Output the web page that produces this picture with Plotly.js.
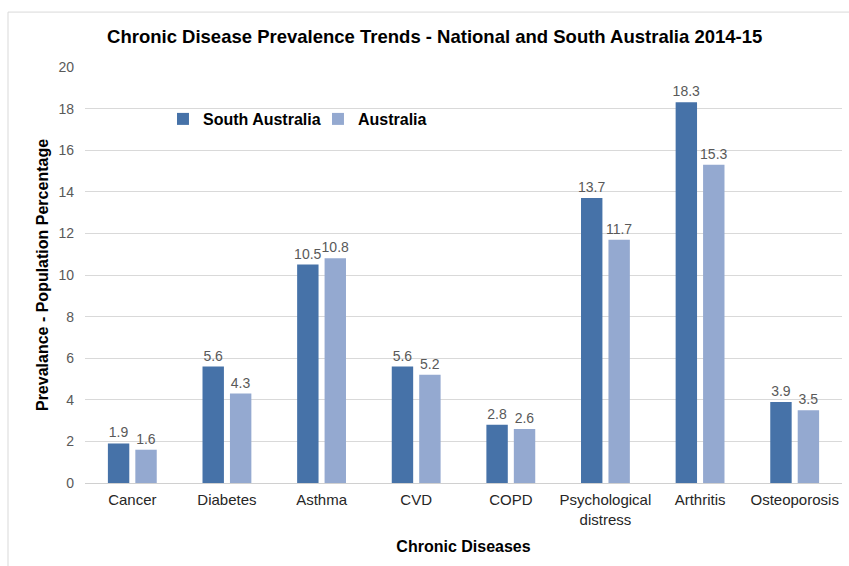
<!DOCTYPE html>
<html>
<head>
<meta charset="utf-8">
<script src="https://cdn.plot.ly/plotly-3.0.1.min.js"></script>
<style>html,body{margin:0;padding:0;background:#fff;}#chart{width:849px;height:566px;}</style>
</head>
<body>
<div id="chart"></div>
<script>
const categories = ["Cancer", "Diabetes", "Asthma", "CVD", "COPD", "Psychological<br>distress", "Arthritis", "Osteoporosis"];
const southAustralia = [1.9, 5.6, 10.5, 5.6, 2.8, 13.7, 18.3, 3.9];
const australia = [1.6, 4.3, 10.8, 5.2, 2.6, 11.7, 15.3, 3.5];
const yTicks = [0, 2, 4, 6, 8, 10, 12, 14, 16, 18, 20];

const labelFont = {family: "Liberation Sans, Arial, sans-serif", size: 14, color: "#595959"};
const traces = [
  {type: "bar", name: "South Australia", x: categories, y: southAustralia,
   marker: {color: "#4672A8"}, text: southAustralia.map(v => v.toFixed(1)),
   textposition: "outside", constraintext: "none", textfont: labelFont, cliponaxis: false, hoverinfo: "x+y"},
  {type: "bar", name: "Australia", x: categories, y: australia,
   marker: {color: "#94A9D0"}, text: australia.map(v => v.toFixed(1)),
   textposition: "outside", constraintext: "none", textfont: labelFont, cliponaxis: false, hoverinfo: "x+y"}
];

const layout = {
  width: 849, height: 566,
  margin: {l: 85, r: 7, t: 67, b: 83},
  paper_bgcolor: "#fff", plot_bgcolor: "#fff",
  font: {family: "Liberation Sans, Arial, sans-serif"},
  title: {text: "<b>Chronic Disease Prevalence Trends - National and South Australia 2014-15</b>",
          font: {size: 18.5, color: "#000"}, x: 0.512, xanchor: "center", y: 0.935, yanchor: "middle"},
  barmode: "group", bargap: 0.42, bargroupgap: 0.22,
  xaxis: {tickfont: {size: 15, color: "#262626"}, showgrid: false, showline: false, ticks: "",
          ticklabelstandoff: 6,
          title: {text: "<b>Chronic Diseases</b>", font: {size: 16, color: "#000"}, standoff: 14}},
  yaxis: {range: [0, 20], tickvals: yTicks, tickfont: {size: 14, color: "#595959"},
          gridcolor: "#d9d9d9", zeroline: true, zerolinecolor: "#d0d0d0", showline: false, ticks: "", ticklen: 0,
          ticklabelstandoff: 10,
          title: {text: "<b>Prevalance - Population Percentage</b>", font: {size: 16, color: "#000"}, standoff: 5}},
  legend: {orientation: "h", x: 0.103, y: 0.875, xanchor: "left", yanchor: "middle",
           font: {size: 16, color: "#000", family: "Liberation Sans, Arial, sans-serif", weight: "bold"},
           bgcolor: "rgba(0,0,0,0)", itemwidth: 30, entrywidth: 110, entrywidthmode: "pixels", traceorder: "normal"},
  shapes: [{type: "rect", xref: "paper", yref: "paper", x0: -0.1017, x1: 1.02, y0: -0.22, y1: 1.132,
            line: {color: "#d9d9d9", width: 1}, fillcolor: "rgba(0,0,0,0)", layer: "below"}],
  showlegend: true
};

Plotly.newPlot("chart", traces, layout, {displayModeBar: false, staticPlot: true});
</script>
</body>
</html>
